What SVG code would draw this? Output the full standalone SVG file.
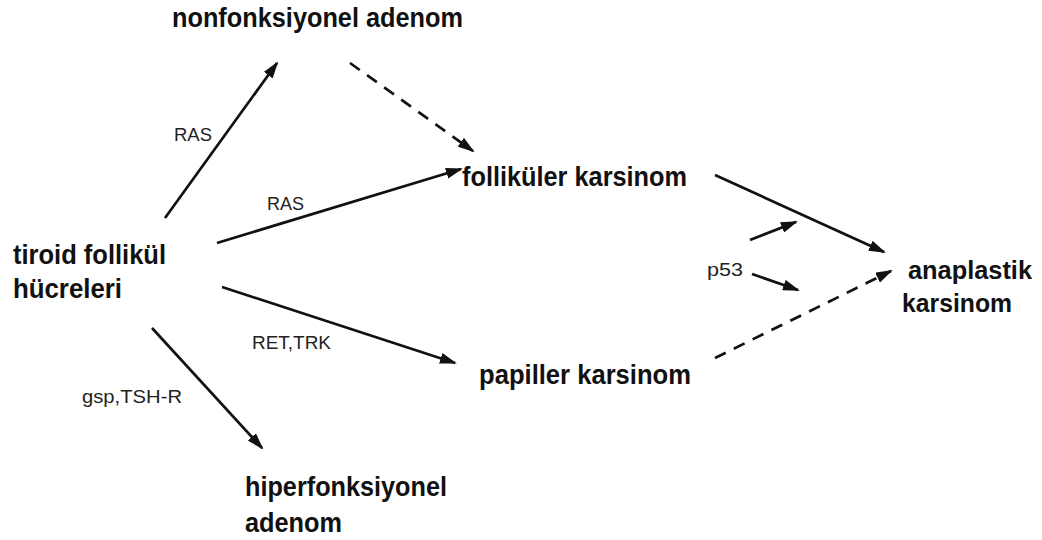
<svg xmlns="http://www.w3.org/2000/svg" width="1042" height="540" viewBox="0 0 1042 540">
<defs>
<style>
.node{font-family:"Liberation Sans Narrow","Liberation Sans",Arial,sans-serif;font-weight:bold;font-size:28px;fill:#111;}
.sm{font-size:26.5px;}
.lbl{font-family:"Liberation Sans",Arial,sans-serif;font-size:19px;fill:#222;}
.ln{stroke:#111;stroke-width:2.7;fill:none;marker-end:url(#ah);}
.dash{stroke-dasharray:12 9;}
</style>
<marker id="ah" markerUnits="userSpaceOnUse" markerWidth="17" markerHeight="11" refX="15" refY="5.5" orient="auto">
<path d="M0,0 L17,5.5 L0,11 z" fill="#111"/>
</marker>
</defs>
<rect width="1042" height="540" fill="#fff"/>
<g id="connectors">
<line class="ln" x1="165" y1="218" x2="277" y2="63"/>
<line class="ln" x1="217" y1="243" x2="461" y2="169"/>
<line class="ln dash" x1="350" y1="63" x2="473" y2="151"/>
<line class="ln" x1="222" y1="287" x2="455" y2="363"/>
<line class="ln" x1="152" y1="328" x2="262" y2="448"/>
<line class="ln" x1="715" y1="175" x2="884" y2="252"/>
<line class="ln dash" x1="715" y1="358" x2="891" y2="271"/>
<line class="ln" x1="750" y1="240" x2="796" y2="222"/>
<line class="ln" x1="752" y1="274" x2="798" y2="290"/>
<text class="lbl" x="174" y="141" textLength="38" lengthAdjust="spacingAndGlyphs">RAS</text>
<text class="lbl" x="267" y="210" textLength="37" lengthAdjust="spacingAndGlyphs">RAS</text>
<text class="lbl" x="252" y="349" textLength="79" lengthAdjust="spacingAndGlyphs">RET,TRK</text>
<text class="lbl" x="82" y="403" textLength="100" lengthAdjust="spacingAndGlyphs">gsp,TSH-R</text>
<text class="lbl" x="707" y="276" textLength="36" lengthAdjust="spacingAndGlyphs">p53</text>
</g>
<g id="nonfonksiyonel">
<text class="node" x="172" y="27" textLength="291" lengthAdjust="spacingAndGlyphs">nonfonksiyonel adenom</text>
</g>
<g id="tiroid">
<text class="node" x="13" y="264" textLength="153" lengthAdjust="spacingAndGlyphs">tiroid follikül</text>
<text class="node" x="13" y="298" textLength="109" lengthAdjust="spacingAndGlyphs">hücreleri</text>
</g>
<g id="follikuler">
<text class="node" x="462" y="186" textLength="225" lengthAdjust="spacingAndGlyphs">folliküler karsinom</text>
</g>
<g id="papiller">
<text class="node" x="479" y="384" textLength="212" lengthAdjust="spacingAndGlyphs">papiller karsinom</text>
</g>
<g id="hiperfonksiyonel">
<text class="node" x="245" y="496" textLength="202" lengthAdjust="spacingAndGlyphs">hiperfonksiyonel</text>
<text class="node" x="245" y="532" textLength="97" lengthAdjust="spacingAndGlyphs">adenom</text>
</g>
<g id="anaplastik">
<text class="node sm" x="908" y="279" textLength="124" lengthAdjust="spacingAndGlyphs">anaplastik</text>
<text class="node sm" x="902" y="312" textLength="110" lengthAdjust="spacingAndGlyphs">karsinom</text>
</g>
</svg>
